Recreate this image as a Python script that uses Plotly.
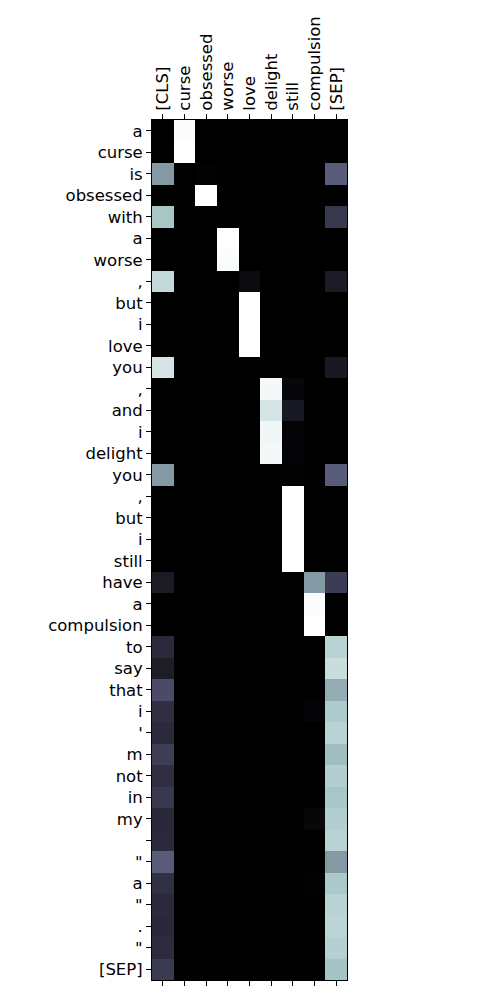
import plotly.graph_objects as go

x_labels = ["[CLS]", "curse", "obsessed", "worse", "love", "delight", "still", "compulsion", "[SEP]"]
y_labels = ["a", "curse", "is", "obsessed", "with", "a", "worse", ",", "but", "i",
            "love", "you", ",", "and", "i", "delight", "you", ",", "but", "i",
            "still", "have", "a", "compulsion", "to", "say", "that", "i", "'", "m",
            "not", "in", "my", " ", "\"", "a", "\"", ".", "\"", "[SEP]"]

# columns: CLS, curse, obsessed, worse, love, delight, still, compulsion, SEP
attn = [
    [0.00, 0.99, 0.00, 0.00, 0.00, 0.00, 0.00, 0.00, 0.00],
    [0.00, 1.00, 0.00, 0.00, 0.00, 0.00, 0.00, 0.00, 0.00],
    [0.60, 0.00, 0.01, 0.00, 0.00, 0.00, 0.00, 0.00, 0.40],
    [0.00, 0.00, 1.00, 0.00, 0.00, 0.00, 0.00, 0.00, 0.00],
    [0.75, 0.00, 0.00, 0.00, 0.00, 0.00, 0.00, 0.00, 0.25],
    [0.00, 0.00, 0.00, 1.00, 0.00, 0.00, 0.00, 0.00, 0.00],
    [0.00, 0.00, 0.00, 0.99, 0.00, 0.00, 0.00, 0.00, 0.00],
    [0.83, 0.00, 0.00, 0.00, 0.05, 0.00, 0.00, 0.00, 0.12],
    [0.00, 0.00, 0.00, 0.00, 1.00, 0.00, 0.00, 0.00, 0.00],
    [0.00, 0.00, 0.00, 0.00, 1.00, 0.00, 0.00, 0.00, 0.00],
    [0.00, 0.00, 0.00, 0.00, 1.00, 0.00, 0.00, 0.00, 0.00],
    [0.88, 0.00, 0.00, 0.00, 0.00, 0.00, 0.00, 0.00, 0.11],
    [0.00, 0.00, 0.00, 0.00, 0.00, 0.97, 0.03, 0.00, 0.00],
    [0.00, 0.00, 0.00, 0.00, 0.00, 0.88, 0.11, 0.00, 0.00],
    [0.00, 0.00, 0.00, 0.00, 0.00, 0.96, 0.02, 0.00, 0.00],
    [0.00, 0.00, 0.00, 0.00, 0.00, 0.97, 0.02, 0.00, 0.00],
    [0.60, 0.00, 0.00, 0.00, 0.00, 0.00, 0.01, 0.00, 0.40],
    [0.00, 0.00, 0.00, 0.00, 0.00, 0.00, 1.00, 0.00, 0.00],
    [0.00, 0.00, 0.00, 0.00, 0.00, 0.00, 1.00, 0.00, 0.00],
    [0.00, 0.00, 0.00, 0.00, 0.00, 0.00, 1.00, 0.00, 0.00],
    [0.00, 0.00, 0.00, 0.00, 0.00, 0.00, 1.00, 0.00, 0.00],
    [0.12, 0.00, 0.00, 0.00, 0.00, 0.00, 0.00, 0.60, 0.27],
    [0.00, 0.00, 0.00, 0.00, 0.00, 0.00, 0.00, 0.99, 0.00],
    [0.00, 0.00, 0.00, 0.00, 0.00, 0.00, 0.00, 1.00, 0.00],
    [0.19, 0.00, 0.00, 0.00, 0.00, 0.00, 0.00, 0.00, 0.80],
    [0.13, 0.00, 0.00, 0.00, 0.00, 0.00, 0.00, 0.00, 0.85],
    [0.34, 0.00, 0.00, 0.00, 0.00, 0.00, 0.00, 0.00, 0.66],
    [0.21, 0.00, 0.00, 0.00, 0.00, 0.00, 0.00, 0.02, 0.77],
    [0.19, 0.00, 0.00, 0.00, 0.00, 0.00, 0.00, 0.00, 0.80],
    [0.28, 0.00, 0.00, 0.00, 0.00, 0.00, 0.00, 0.00, 0.72],
    [0.21, 0.00, 0.00, 0.00, 0.00, 0.00, 0.00, 0.00, 0.78],
    [0.25, 0.00, 0.00, 0.00, 0.00, 0.00, 0.00, 0.00, 0.75],
    [0.18, 0.00, 0.00, 0.00, 0.00, 0.00, 0.00, 0.03, 0.78],
    [0.19, 0.00, 0.00, 0.00, 0.00, 0.00, 0.00, 0.00, 0.80],
    [0.40, 0.00, 0.00, 0.00, 0.00, 0.00, 0.00, 0.00, 0.60],
    [0.22, 0.00, 0.00, 0.00, 0.00, 0.00, 0.00, 0.01, 0.76],
    [0.19, 0.00, 0.00, 0.00, 0.00, 0.00, 0.00, 0.00, 0.80],
    [0.18, 0.00, 0.00, 0.00, 0.00, 0.00, 0.00, 0.00, 0.81],
    [0.20, 0.00, 0.00, 0.00, 0.00, 0.00, 0.00, 0.00, 0.79],
    [0.26, 0.00, 0.00, 0.00, 0.00, 0.00, 0.00, 0.00, 0.74],
]

bone = [
    [0.0, "rgb(0,0,0)"],
    [0.365079, "rgb(81,81,113)"],
    [0.746032, "rgb(166,198,198)"],
    [1.0, "rgb(255,255,255)"],
]

fig = go.Figure(go.Heatmap(
    z=attn,
    x=list(range(len(x_labels))),
    y=list(range(len(y_labels))),
    colorscale=bone, zmin=0, zmax=1, showscale=False,
))

font = dict(family="DejaVu Sans", size=16.5, color="black")
fig.update_layout(
    width=500, height=1000,
    margin=dict(l=0, r=0, t=0, b=0),
    paper_bgcolor="white", plot_bgcolor="white",
    font=font,
    xaxis=dict(
        domain=[0.304, 0.694], side="top", range=[-0.5, 8.5],
        tickvals=list(range(len(x_labels))), ticktext=x_labels,
        tickangle=-90, ticks="outside", ticklen=5, tickcolor="black",
        showline=True, linecolor="black", linewidth=1, mirror="ticks",
        showgrid=False, zeroline=False, tickfont=font,
    ),
    yaxis=dict(
        domain=[0.02, 0.88], range=[39.5, -0.5],
        tickvals=list(range(len(y_labels))), ticktext=y_labels,
        ticks="outside", ticklen=5, tickcolor="black",
        showline=True, linecolor="black", linewidth=1, mirror=True,
        showgrid=False, zeroline=False, tickfont=font,
    ),
)

fig.write_html("out.html")
